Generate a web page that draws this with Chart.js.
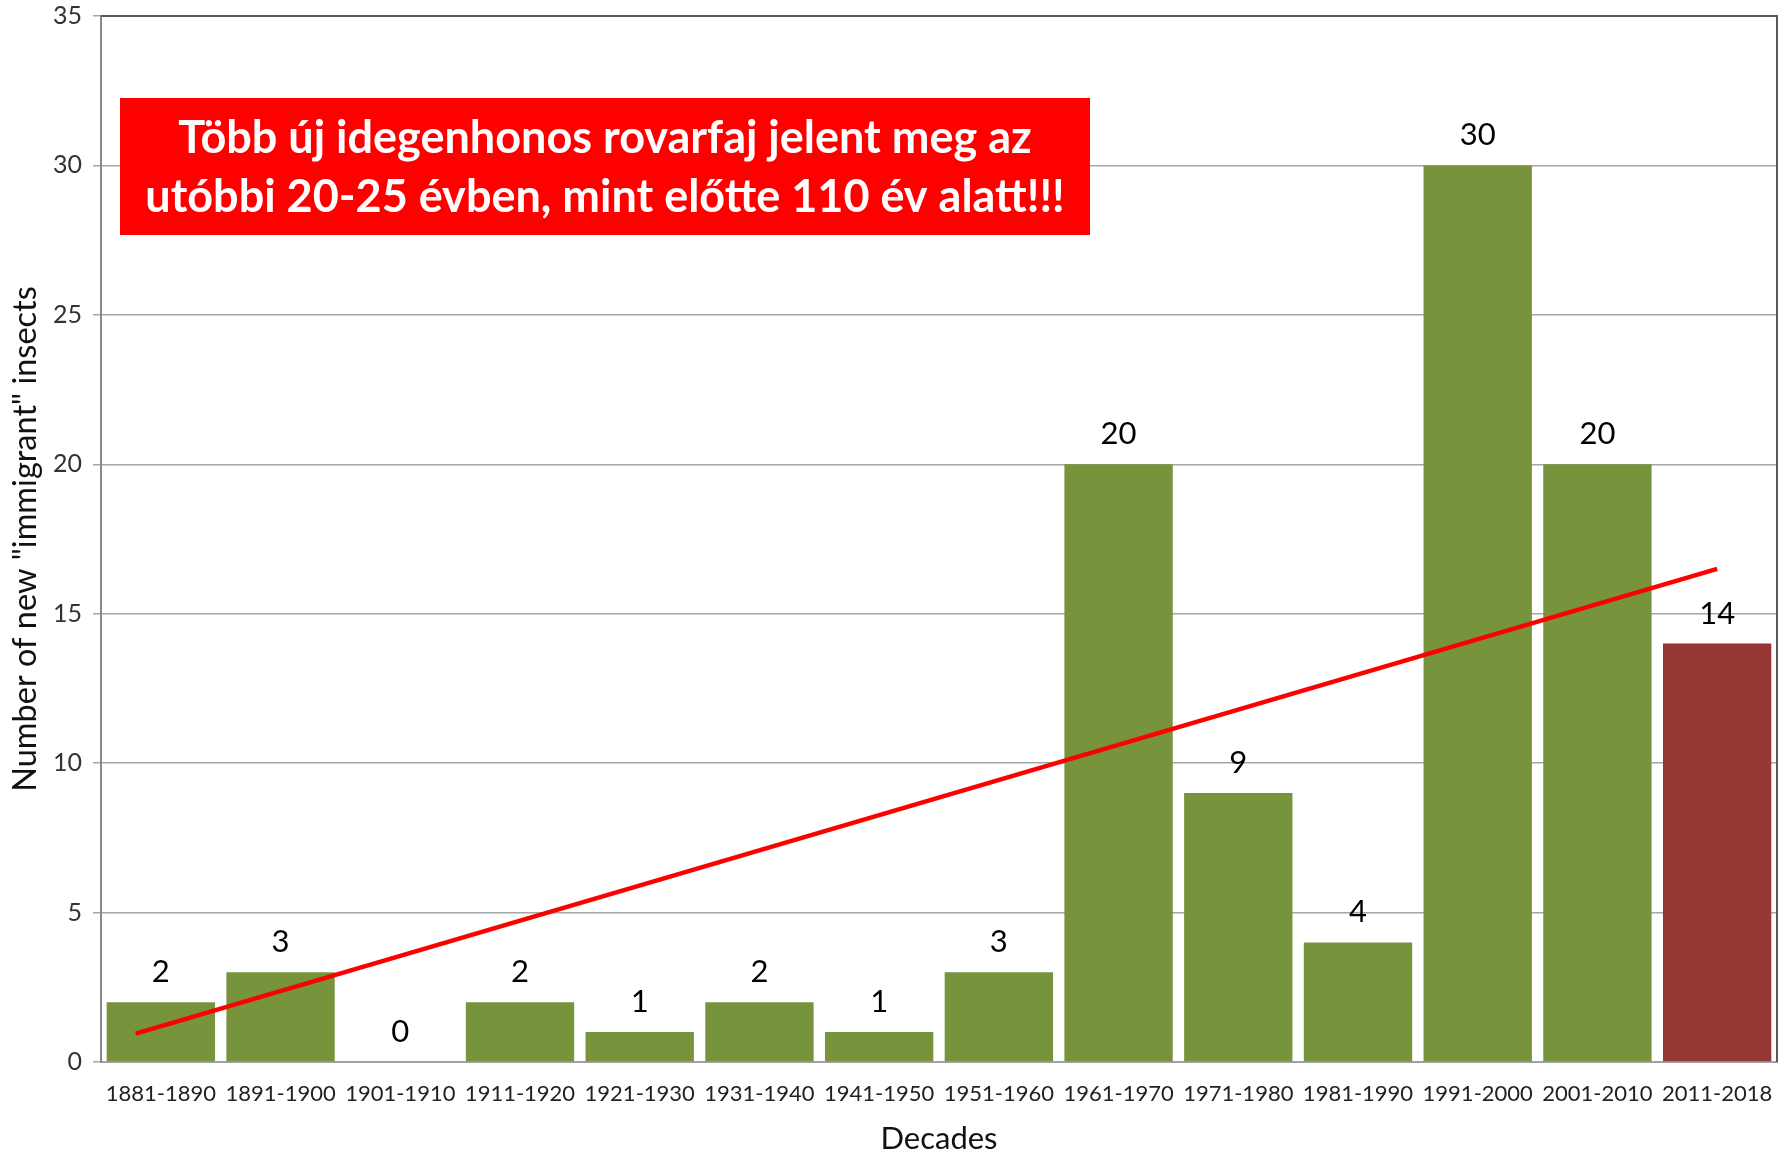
<!DOCTYPE html>
<html>
<head>
<meta charset="utf-8">
<script src="https://cdn.jsdelivr.net/npm/chart.js@4.4.0/dist/chart.umd.min.js"></script>
<style>
  html, body { margin: 0; padding: 0; background: #fff; }
  #wrap { width: 1789px; height: 1154px; }
</style>
</head>
<body>
<div id="wrap"><canvas id="chart" width="1789" height="1154"></canvas></div>
<script>
var decades = ['1881-1890', '1891-1900', '1901-1910', '1911-1920', '1921-1930', '1931-1940', '1941-1950',
  '1951-1960', '1961-1970', '1971-1980', '1981-1990', '1991-2000', '2001-2010', '2011-2018'];
var newInsects = [2, 3, 0, 2, 1, 2, 1, 3, 20, 9, 4, 30, 20, 14];
var barColors = ['#77933c', '#77933c', '#77933c', '#77933c', '#77933c', '#77933c', '#77933c',
  '#77933c', '#77933c', '#77933c', '#77933c', '#77933c', '#77933c', '#953735'];
// hand drawn trend line (x in category index units)
var trendX = [-0.21, 13];
var trendY = [0.95, 16.5];
var yTicks = [0, 5, 10, 15, 20, 25, 30, 35];
var boxLines = ['Több új idegenhonos rovarfaj jelent meg az', 'utóbbi 20-25 évben, mint előtte 110 év alatt!!!'];

var FONT = 'Lato, "Open Sans", sans-serif';

var valueLabels = {
  id: 'valueLabels',
  afterDatasetsDraw: function (chart) {
    var ctx = chart.ctx;
    var meta = chart.getDatasetMeta(0);
    ctx.save();
    ctx.font = '31px ' + FONT;
    ctx.fillStyle = '#000';
    ctx.textAlign = 'center';
    ctx.textBaseline = 'middle';
    meta.data.forEach(function (bar, i) {
      ctx.fillText(String(newInsects[i]), bar.x, bar.y - 30);
    });
    ctx.restore();
  }
};

var frame = {
  id: 'frame',
  beforeDatasetsDraw: function (chart) {
    var a = chart.chartArea, ctx = chart.ctx;
    ctx.save();
    ctx.strokeStyle = '#5a5a5a';
    ctx.lineWidth = 2;
    ctx.beginPath();
    ctx.moveTo(a.left, a.top);
    ctx.lineTo(a.right, a.top);
    ctx.lineTo(a.right, a.bottom);
    ctx.stroke();
    ctx.restore();
  }
};

var noteBox = {
  id: 'noteBox',
  afterDraw: function (chart) {
    var a = chart.chartArea, ctx = chart.ctx;
    var x = a.left + 19, y = a.top + 82, w = 970, h = 137;
    ctx.save();
    ctx.fillStyle = '#ff0000';
    ctx.fillRect(x, y, w, h);
    ctx.fillStyle = '#fff';
    ctx.font = 'bold 45px ' + FONT;
    ctx.textAlign = 'center';
    ctx.textBaseline = 'middle';
    ctx.fillText(boxLines[0], x + w / 2, y + 40);
    ctx.fillText(boxLines[1], x + w / 2, y + 99);
    ctx.restore();
  }
};

new Chart(document.getElementById('chart').getContext('2d'), {
  data: {
    labels: decades,
    datasets: [{
      type: 'bar',
      data: newInsects,
      backgroundColor: barColors,
      barPercentage: 0.905,
      categoryPercentage: 1.0,
      grouped: false,
      order: 2
    }, {
      type: 'line',
      xAxisID: 'xl',
      data: trendX.map(function (v, i) { return { x: v, y: trendY[i] }; }),
      borderColor: '#ff0000',
      borderWidth: 4.5,
      pointRadius: 0,
      fill: false,
      order: 1
    }]
  },
  options: {
    responsive: false,
    animation: false,
    layout: { padding: { left: 0, right: 12, top: 16, bottom: 0 } },
    plugins: { legend: { display: false }, tooltip: { enabled: false } },
    scales: {
      x: {
        type: 'category',
        grid: { display: false, drawTicks: false },
        border: { color: '#a0a0a0', width: 2 },
        ticks: { color: '#222', font: { family: FONT, size: 22 }, padding: 19, maxRotation: 0, autoSkip: false },
        title: { display: true, text: 'Decades', color: '#111', font: { family: FONT, size: 31 }, padding: { top: 0, bottom: -4 } },
        afterFit: function (s) { s.height = 92; s.paddingLeft = 0; s.paddingRight = 0; }
      },
      xl: {
        type: 'linear',
        display: false,
        min: -0.5,
        max: 13.5
      },
      y: {
        min: 0,
        max: 35,
        afterBuildTicks: function (s) { s.ticks = yTicks.map(function (v) { return { value: v }; }); },
        grid: { color: '#a6a6a6', lineWidth: 1.5, tickLength: 8 },
        border: { color: '#888', width: 2 },
        ticks: { color: '#333', font: { family: FONT, size: 25 }, padding: 11 },
        title: { display: true, text: 'Number of new "immigrant" insects', color: '#111', font: { family: FONT, size: 32.5 }, padding: { top: 6, bottom: 0 } },
        afterFit: function (s) { s.width = 101; s.paddingTop = 0; s.paddingBottom = 0; }
      }
    }
  },
  plugins: [frame, valueLabels, noteBox]
});
</script>
</body>
</html>
